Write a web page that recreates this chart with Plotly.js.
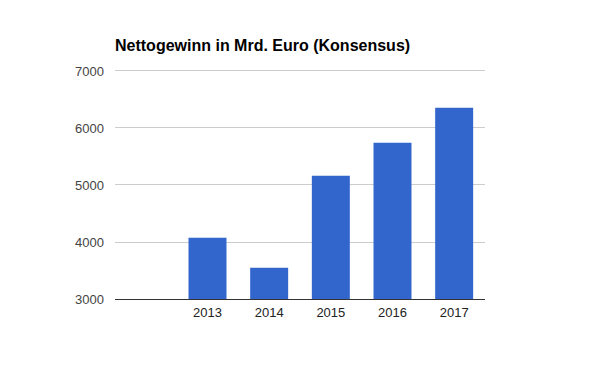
<!DOCTYPE html>
<html>
<head>
<meta charset="utf-8">
<script src="https://cdn.plot.ly/plotly-3.0.1.min.js"></script>
<style>html,body{margin:0;padding:0;background:#fff;}#chart{width:600px;height:371px;}</style>
</head>
<body>
<div id="chart"></div>
<script>
const years = [2012, 2013, 2014, 2015, 2016, 2017];
const tickLabels = ["", "2013", "2014", "2015", "2016", "2017"];
const profit = [null, 4075, 3550, 5163, 5742, 6356];
const yTicks = [3000, 4000, 5000, 6000, 7000];

const font = "Arial, 'Liberation Sans', sans-serif";
Plotly.newPlot('chart', [{
  type: 'bar',
  x: years,
  y: profit,
  marker: {color: '#3366cc'},
  hoverinfo: 'x+y'
}], {
  width: 600, height: 371,
  margin: {l: 115, r: 115, t: 65, b: 72},
  paper_bgcolor: '#fff', plot_bgcolor: '#fff',
  bargap: 0.384,
  showlegend: false,
  title: {
    text: '<b>Nettogewinn in Mrd. Euro (Konsensus)</b>',
    font: {family: font, size: 16, color: '#000'},
    xref: 'container', yref: 'container',
    x: 115/600, xanchor: 'left',
    y: 1 - 45/371, yanchor: 'middle'
  },
  xaxis: {
    type: 'linear',
    range: [2011.5, 2017.5],
    tickvals: years, ticktext: tickLabels,
    showgrid: false, zeroline: false,
    showline: true, linecolor: '#333', linewidth: 1,
    ticks: '', ticklabelstandoff: 1,
    tickfont: {family: font, size: 13, color: '#222'}
  },
  yaxis: {
    range: [3000, 7105],
    tickvals: yTicks,
    showgrid: true, gridcolor: '#cccccc', gridwidth: 1,
    zeroline: false, showline: false,
    ticks: '', ticklabelstandoff: 10,
    tickfont: {family: font, size: 13, color: '#444'}
  }
}, {displayModeBar: false, staticPlot: true});
</script>
</body>
</html>
